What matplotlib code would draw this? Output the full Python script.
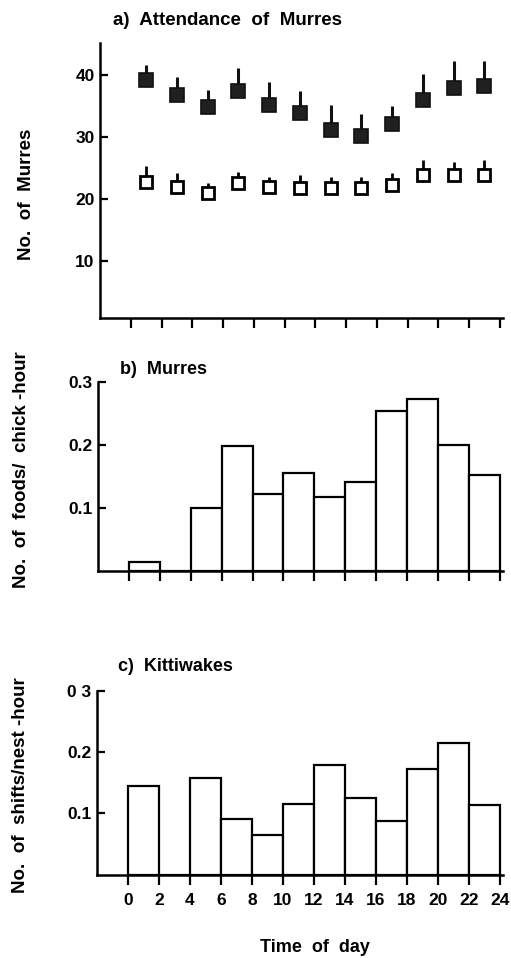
import numpy as np
import matplotlib
matplotlib.use('Agg')
from matplotlib import pyplot as plt

plt.rcParams['font.family'] = ['Liberation Sans', 'DejaVu Sans']
plt.rcParams['font.weight'] = 'bold'

# time of day (bin centres for attendance, bin left edges for rates)
hours_mid = [1, 3, 5, 7, 9, 11, 13, 15, 17, 19, 21, 23]
bin_left = [0, 2, 4, 6, 8, 10, 12, 14, 16, 18, 20, 22]

# a) attendance of murres: two series (filled / open), upward error bars
murres_filled = [39.2, 36.8, 34.8, 37.4, 35.1, 33.9, 31.1, 30.1, 32.0, 35.9, 37.9, 38.2]
murres_filled_err = [2.3, 2.9, 2.8, 3.7, 3.8, 3.5, 4.0, 3.5, 2.9, 4.3, 4.3, 4.0]
murres_open = [22.8, 21.9, 20.9, 22.6, 21.9, 21.8, 21.8, 21.8, 22.3, 23.9, 23.8, 23.8]
murres_open_err = [2.5, 2.2, 1.7, 1.7, 1.7, 2.1, 1.7, 1.7, 1.9, 2.3, 2.1, 2.5]

# b) murre feeding rate
foods = [0.015, 0.0, 0.10, 0.198, 0.123, 0.155, 0.117, 0.141, 0.254, 0.274, 0.201, 0.152]

# c) kittiwake nest shifts
shifts = [0.144, 0.0, 0.157, 0.091, 0.064, 0.116, 0.179, 0.125, 0.087, 0.172, 0.215, 0.114]

x_ticks = list(range(0, 25, 2))

fig = plt.figure(figsize=(5.11, 9.58), dpi=100)

ax1 = fig.add_axes([0.196, 0.668, 0.788, 0.287])
ax2 = fig.add_axes([0.192, 0.404, 0.792, 0.197])
ax3 = fig.add_axes([0.190, 0.087, 0.794, 0.192])

for ax in (ax1, ax2, ax3):
    for s in ('top', 'right'):
        ax.spines[s].set_visible(False)
    for s in ('left', 'bottom'):
        ax.spines[s].set_linewidth(1.8)
    ax.set_xlim(-2, 24.2)
    ax.set_xticks(x_ticks)
    ax.tick_params(axis='x', direction='out', length=7, width=1.6)
    ax.tick_params(axis='y', direction='in', length=6, width=1.6, labelsize=12.5, pad=4)

# y labels placed in figure pixels (x, y centre)
def ylab(text, x, y):
    fig.text(x / 511, 1 - y / 958, text, rotation=90, fontsize=13.5,
             fontweight='bold', ha='center', va='center')

# panel a
ax1.errorbar(hours_mid, murres_filled,
             yerr=[np.zeros(len(murres_filled_err)), murres_filled_err],
             fmt='s', ms=9.5, mfc='#202020', mec='#111111', mew=1.2,
             ecolor='#111111', elinewidth=2.2, capsize=0, zorder=3)
ax1.errorbar(hours_mid, murres_open,
             yerr=[np.zeros(len(murres_open_err)), murres_open_err],
             fmt='s', ms=8.5, mfc='white', mec='black', mew=2.0,
             ecolor='black', elinewidth=2.0, capsize=0, zorder=3)
ax1.set_ylim(0.8, 45.1)
ax1.set_yticks([10, 20, 30, 40])
ax1.set_xticklabels([])
ylab('No.  of  Murres', 27, 194)
ax1.text((113 - 100) / 403, 1.0 + (43 - 20) / 275,
         'a)  Attendance  of  Murres', transform=ax1.transAxes,
         fontsize=13.5, fontweight='bold', va='center', ha='left')

# panel b
ax2.bar(bin_left, foods, width=2, align='edge', color='white',
        edgecolor='black', linewidth=1.6)
ax2.set_ylim(0, 0.3)
ax2.set_yticks([0.1, 0.2, 0.3])
ax2.set_yticklabels(['0.1', '0.2', '0.3'])
ax2.set_xticklabels([])
ylab('No.  of  foods/  chick -hour', 22, 470)
ax2.text((120 - 98) / 405, 1.0 + (382 - 369) / 189, 'b)  Murres',
         transform=ax2.transAxes, fontsize=13, fontweight='bold',
         va='center', ha='left')

# panel c
ax3.bar(bin_left, shifts, width=2, align='edge', color='white',
        edgecolor='black', linewidth=1.6)
ax3.set_ylim(0, 0.3)
ax3.set_yticks([0.1, 0.2, 0.3])
ax3.set_yticklabels(['0.1', '0.2', '0 3'])
ax3.set_xticklabels([str(h) for h in x_ticks], fontsize=12.5, fontweight='bold')
ax3.tick_params(axis='x', pad=6)
ylab('No.  of  shifts/nest -hour', 21, 785)
ax3.text((118 - 97) / 406, 1.0 + (691 - 667) / 184, 'c)  Kittiwakes',
         transform=ax3.transAxes, fontsize=13, fontweight='bold',
         va='center', ha='left')
fig.text(315 / 511, 1 - 948 / 958, 'Time  of  day', fontsize=13,
         fontweight='bold', ha='center', va='center')

fig.savefig('out.png', dpi=100)
